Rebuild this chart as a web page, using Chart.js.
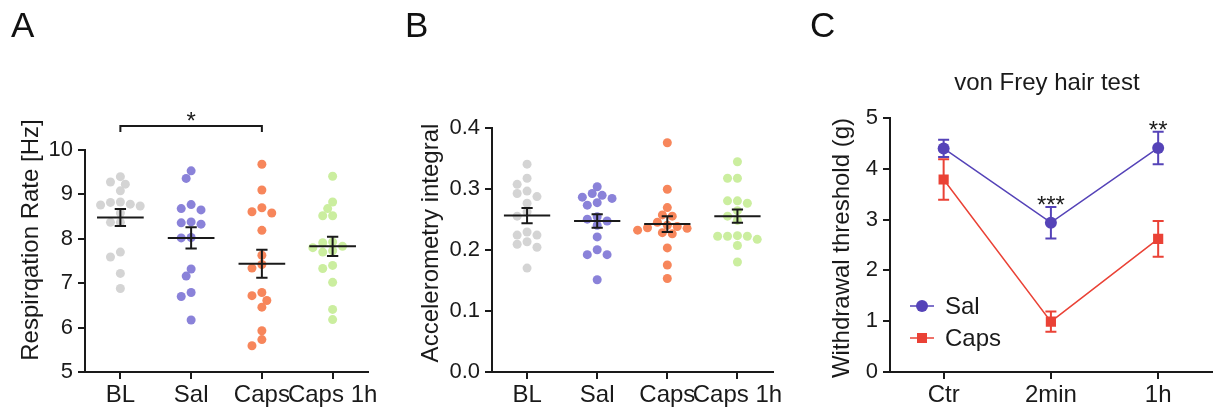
<!DOCTYPE html>
<html lang="en">
<head>
    <meta charset="UTF-8">
    <title>Respiration, accelerometry and von Frey test</title>
    <script src="https://cdn.jsdelivr.net/npm/chart.js"></script>
    <style>
        body { margin: 0; background: #fff; font-family: 'Liberation Sans', Arial, sans-serif; }
        .panel { position: absolute; top: 0; height: 412px; }
        .letter { position: absolute; top: 7px; font-size: 35px; line-height: 1; color: #111; }
    </style>
</head>
<body>
    <div class="panel" style="left:0;width:400px"><canvas id="chartA"></canvas></div>
    <div class="panel" style="left:400px;width:400px"><canvas id="chartB"></canvas></div>
    <div class="panel" style="left:800px;width:419px"><canvas id="chartC"></canvas></div>
    <div class="letter" style="left:11px">A</div>
    <div class="letter" style="left:405px">B</div>
    <div class="letter" style="left:810px">C</div>

    <script>
        // groups shared by A and B
        const groups = ['BL', 'Sal', 'Caps', 'Caps 1h'];

        // A - respiration rate [Hz], one dot per animal
        const respBL = [9.40, 9.28, 9.23, 9.08, 8.83, 8.82, 8.78, 8.76, 8.74, 8.58, 8.37, 8.37, 7.70, 7.59, 7.22, 6.88];
        const respSal = [9.53, 9.36, 8.77, 8.68, 8.65, 8.38, 8.36, 8.33, 8.03, 8.02, 7.32, 7.16, 6.79, 6.70, 6.17];
        const respCaps = [9.68, 9.10, 8.70, 8.61, 8.58, 8.19, 7.63, 7.42, 7.34, 6.79, 6.72, 6.61, 6.46, 5.93, 5.73, 5.59];
        const respCaps1h = [9.41, 8.83, 8.68, 8.52, 8.52, 7.93, 7.91, 7.83, 7.80, 7.73, 7.70, 7.40, 7.33, 7.02, 6.41, 6.18];
        const respMean = [8.48, 8.02, 7.44, 7.83];
        const respSem = [0.19, 0.24, 0.315, 0.215];
        const respSigPair = [0, 2];
        const respSigText = '*';

        // B - accelerometry integral
        const accBL = [0.340, 0.317, 0.307, 0.296, 0.292, 0.287, 0.276, 0.262, 0.255, 0.229, 0.224, 0.224, 0.213, 0.209, 0.204, 0.170];
        const accSal = [0.303, 0.292, 0.289, 0.286, 0.284, 0.277, 0.273, 0.254, 0.250, 0.247, 0.240, 0.221, 0.200, 0.192, 0.192, 0.151];
        const accCaps = [0.375, 0.299, 0.269, 0.257, 0.255, 0.245, 0.240, 0.238, 0.236, 0.235, 0.232, 0.228, 0.226, 0.203, 0.175, 0.153];
        const accCaps1h = [0.344, 0.317, 0.317, 0.280, 0.280, 0.276, 0.264, 0.255, 0.248, 0.223, 0.222, 0.222, 0.222, 0.217, 0.207, 0.180];
        const accMean = [0.256, 0.247, 0.242, 0.255];
        const accSem = [0.0125, 0.011, 0.013, 0.011];

        // C - von Frey withdrawal threshold (g), mean and SEM
        const timepoints = ['Ctr', '2min', '1h'];
        const vfSal = [4.40, 2.94, 4.41];
        const vfSalSem = [0.17, 0.31, 0.32];
        const vfCaps = [3.79, 0.99, 2.62];
        const vfCapsSem = [0.40, 0.20, 0.35];
        const vfSig = ['', '***', '**'];

        const dotColors = ['#d4d4d4', '#8a82d9', '#f7865b', '#cbee9f'];
        const ink = '#1a1a1a';
        const font = "'Liberation Sans', Arial, sans-serif";

        Chart.defaults.font.family = font;
        Chart.defaults.color = ink;

        // rotated y title drawn where the figure has it
        const sideTitle = {
            id: 'sideTitle',
            afterDraw(chart, args, o) {
                const ctx = chart.ctx;
                ctx.save();
                ctx.translate(o.x, o.y);
                ctx.rotate(-Math.PI / 2);
                ctx.font = '24px ' + font;
                ctx.fillStyle = ink;
                ctx.textAlign = 'center';
                ctx.textBaseline = 'middle';
                ctx.fillText(o.text, 0, 0);
                ctx.restore();
            }
        };

        // mean line + SEM bars (and optional bracket) for the dot plots
        const meanSem = {
            id: 'meanSem',
            afterDatasetsDraw(chart, args, o) {
                const { ctx, chartArea } = chart;
                const { x, y } = chart.scales;
                ctx.save();
                ctx.strokeStyle = ink;
                ctx.lineWidth = 2;
                o.mean.forEach((m, i) => {
                    const cx = x.getPixelForValue(i + 1);
                    const half = x.getPixelForValue(i + 1.33) - cx;
                    const cap = x.getPixelForValue(i + 1.08) - cx;
                    const ym = y.getPixelForValue(m);
                    const yt = y.getPixelForValue(m + o.sem[i]);
                    const yb = y.getPixelForValue(m - o.sem[i]);
                    ctx.beginPath();
                    ctx.moveTo(cx - half, ym); ctx.lineTo(cx + half, ym);
                    ctx.moveTo(cx, yt); ctx.lineTo(cx, yb);
                    ctx.moveTo(cx - cap, yt); ctx.lineTo(cx + cap, yt);
                    ctx.moveTo(cx - cap, yb); ctx.lineTo(cx + cap, yb);
                    ctx.stroke();
                });
                if (o.pair) {
                    const x1 = x.getPixelForValue(o.pair[0] + 1);
                    const x2 = x.getPixelForValue(o.pair[1] + 1);
                    const by = chartArea.top - 24;
                    ctx.beginPath();
                    ctx.moveTo(x1, by + 6); ctx.lineTo(x1, by); ctx.lineTo(x2, by); ctx.lineTo(x2, by + 6);
                    ctx.stroke();
                    ctx.font = '24px ' + font;
                    ctx.fillStyle = ink;
                    ctx.textAlign = 'center';
                    ctx.fillText(o.sigText, (x1 + x2) / 2, by + 3);
                }
                ctx.restore();
            }
        };

        // simple beeswarm: push dots sideways until they stop overlapping
        function swarmOffsets(py, diam) {
            const order = py.map((v, i) => i).sort((a, b) => py[a] - py[b]);
            const placed = [];
            const out = [];
            const step = diam * 0.55;
            order.forEach(i => {
                for (let k = 0; k < 60; k++) {
                    const off = (k % 2 ? -1 : 1) * Math.ceil(k / 2) * step;
                    const hit = placed.some(p => Math.hypot(p.x - off, p.y - py[i]) < diam * 0.92);
                    if (!hit) {
                        placed.push({ x: off, y: py[i] });
                        out[i] = off;
                        break;
                    }
                }
            });
            return out;
        }

        function dotPlot(id, cfg) {
            const chart = new Chart(document.getElementById(id), {
                type: 'scatter',
                data: {
                    datasets: cfg.values.map((vals, i) => ({
                        data: vals.map(v => ({ x: i + 1, y: v })),
                        backgroundColor: dotColors[i],
                        borderWidth: 0,
                        pointRadius: 4.5
                    }))
                },
                options: {
                    responsive: true,
                    maintainAspectRatio: false,
                    animation: false,
                    events: [],
                    layout: { padding: { top: cfg.top, right: cfg.right, left: 0, bottom: 0 } },
                    plugins: {
                        legend: { display: false },
                        tooltip: { enabled: false },
                        meanSem: { mean: cfg.mean, sem: cfg.sem, pair: cfg.pair, sigText: cfg.sigText },
                        sideTitle: cfg.title
                    },
                    scales: {
                        x: {
                            type: 'linear', min: 0.5, max: 4.5,
                            afterBuildTicks: s => { s.ticks = groups.map((g, i) => ({ value: i + 1 })); },
                            afterFit: s => { s.height = 40; },
                            grid: { drawOnChartArea: false, tickLength: 7, color: ink, lineWidth: 2 },
                            border: { color: ink, width: 2 },
                            ticks: {
                                callback: v => groups[v - 1],
                                font: { size: 24 }, color: ink, padding: 2,
                                maxRotation: 0, minRotation: 0, autoSkip: false
                            }
                        },
                        y: {
                            min: cfg.min, max: cfg.max,
                            afterFit: s => { s.width = cfg.axisW; },
                            grid: { drawOnChartArea: false, tickLength: 7, color: ink, lineWidth: 2 },
                            border: { color: ink, width: 2 },
                            ticks: { stepSize: cfg.step, callback: cfg.fmt, font: { size: 22 }, color: ink, padding: 5 }
                        }
                    }
                },
                plugins: [meanSem, sideTitle]
            });
            const { x, y } = chart.scales;
            const unit = x.getPixelForValue(2) - x.getPixelForValue(1);
            cfg.values.forEach((vals, i) => {
                const offs = swarmOffsets(vals.map(v => y.getPixelForValue(v)), 9);
                chart.data.datasets[i].data = vals.map((v, j) => ({ x: i + 1 + offs[j] / unit, y: v }));
            });
            chart.update('none');
            return chart;
        }

        dotPlot('chartA', {
            values: [respBL, respSal, respCaps, respCaps1h],
            mean: respMean, sem: respSem, pair: respSigPair, sigText: respSigText,
            min: 5, max: 10, step: 1, fmt: v => v,
            top: 150, right: 32, axisW: 85,
            title: { text: 'Respirqation Rate [Hz]', x: 31, y: 240 }
        });

        dotPlot('chartB', {
            values: [accBL, accSal, accCaps, accCaps1h],
            mean: accMean, sem: accSem,
            min: 0, max: 0.4, step: 0.1, fmt: v => v.toFixed(1),
            top: 127.5, right: 27.5, axisW: 92,
            title: { text: 'Accelerometry integral', x: 31.5, y: 243 }
        });

        // error bars, stars, legend and title for the line panel
        const vfExtras = {
            id: 'vfExtras',
            beforeDatasetsDraw(chart) {
                const { ctx } = chart;
                const { x, y } = chart.scales;
                ctx.save();
                ctx.lineWidth = 2;
                chart.data.datasets.forEach(ds => {
                    ctx.strokeStyle = ds.borderColor;
                    ds.data.forEach((m, i) => {
                        const cx = x.getPixelForValue(i);
                        const yt = y.getPixelForValue(m + ds.sem[i]);
                        const yb = y.getPixelForValue(m - ds.sem[i]);
                        ctx.beginPath();
                        ctx.moveTo(cx, yt); ctx.lineTo(cx, yb);
                        ctx.moveTo(cx - 5.5, yt); ctx.lineTo(cx + 5.5, yt);
                        ctx.moveTo(cx - 5.5, yb); ctx.lineTo(cx + 5.5, yb);
                        ctx.stroke();
                    });
                });
                ctx.restore();
            },
            afterDraw(chart) {
                const { ctx, chartArea } = chart;
                const { x, y } = chart.scales;
                ctx.save();
                ctx.fillStyle = ink;
                ctx.textAlign = 'center';
                ctx.font = '24px ' + font;
                ctx.fillText('von Frey hair test', (chartArea.left + chartArea.right) / 2 - 4, chartArea.top - 28);
                vfSig.forEach((s, i) => {
                    if (!s) return;
                    ctx.fillText(s, x.getPixelForValue(i), y.getPixelForValue(vfSal[i] + vfSalSem[i]) + 6);
                });
                // legend
                chart.data.datasets.forEach((ds, k) => {
                    const ly = chartArea.bottom - 66 + k * 32;
                    const lx = chartArea.left + 20;
                    ctx.strokeStyle = ds.borderColor;
                    ctx.fillStyle = ds.borderColor;
                    ctx.lineWidth = 1.5;
                    ctx.beginPath();
                    ctx.moveTo(lx, ly); ctx.lineTo(lx + 24, ly);
                    ctx.stroke();
                    ctx.beginPath();
                    if (ds.pointStyle === 'rect') ctx.rect(lx + 7, ly - 5, 10, 10);
                    else ctx.arc(lx + 12, ly, 6, 0, Math.PI * 2);
                    ctx.fill();
                    ctx.fillStyle = ink;
                    ctx.textAlign = 'left';
                    ctx.textBaseline = 'middle';
                    ctx.fillText(ds.label, lx + 35, ly + 1);
                });
                ctx.restore();
            }
        };

        new Chart(document.getElementById('chartC'), {
            type: 'line',
            data: {
                labels: timepoints,
                datasets: [
                    { label: 'Sal', data: vfSal, sem: vfSalSem, borderColor: '#5543b8', backgroundColor: '#5543b8',
                      borderWidth: 1.5, pointStyle: 'circle', pointRadius: 6, pointBorderWidth: 0 },
                    { label: 'Caps', data: vfCaps, sem: vfCapsSem, borderColor: '#ea4236', backgroundColor: '#ea4236',
                      borderWidth: 1.5, pointStyle: 'rect', pointRadius: 7.2, pointBorderWidth: 0 }
                ]
            },
            options: {
                responsive: true,
                maintainAspectRatio: false,
                animation: false,
                events: [],
                layout: { padding: { top: 118, right: 1, left: 0, bottom: 0 } },
                plugins: {
                    legend: { display: false },
                    tooltip: { enabled: false },
                    sideTitle: { text: 'Withdrawal threshold (g)', x: 42.5, y: 248 }
                },
                scales: {
                    x: {
                        offset: true,
                        afterFit: s => { s.height = 40; },
                        grid: { drawOnChartArea: false, offset: false, tickLength: 7, color: ink, lineWidth: 2 },
                        border: { color: ink, width: 2 },
                        ticks: { font: { size: 24 }, color: ink, padding: 2, maxRotation: 0 }
                    },
                    y: {
                        min: 0, max: 5,
                        afterFit: s => { s.width = 90; },
                        grid: { drawOnChartArea: false, tickLength: 7, color: ink, lineWidth: 2 },
                        border: { color: ink, width: 2 },
                        ticks: { stepSize: 1, font: { size: 22 }, color: ink, padding: 5 }
                    }
                }
            },
            plugins: [vfExtras, sideTitle]
        });
    </script>
</body>
</html>
